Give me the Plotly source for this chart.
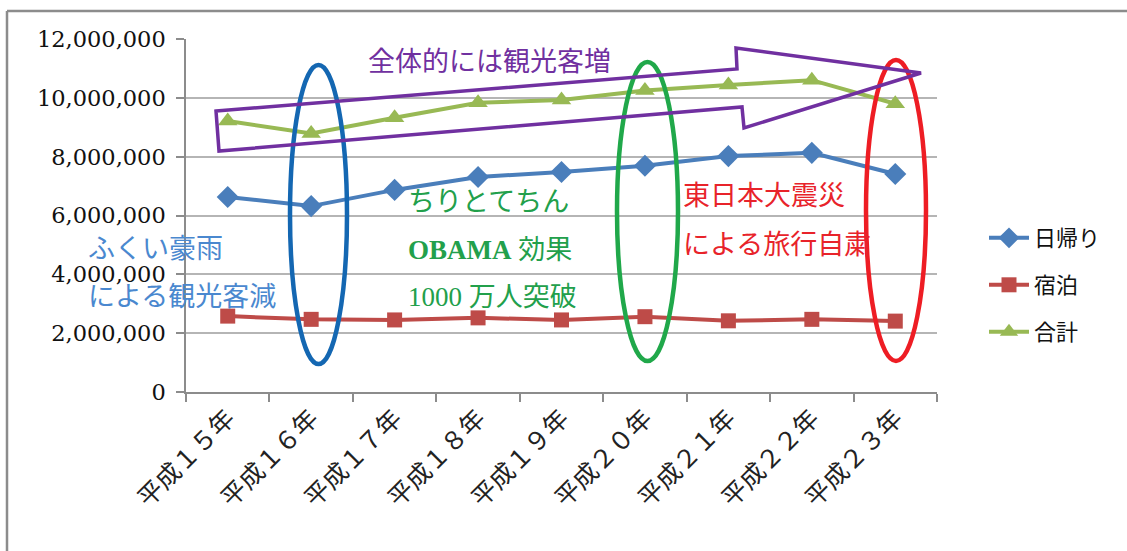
import plotly.graph_objects as go

categories = ['平成１５年', '平成１６年', '平成１７年', '平成１８年', '平成１９年',
              '平成２０年', '平成２１年', '平成２２年', '平成２３年']
higaeri = [6630000, 6320000, 6870000, 7310000, 7480000, 7690000, 8020000, 8130000, 7410000]
shukuhaku = [2580000, 2470000, 2450000, 2520000, 2450000, 2560000, 2420000, 2470000, 2410000]
goukei = [9210000, 8790000, 9320000, 9830000, 9930000, 10250000, 10440000, 10600000, 9800000]
y_ticks = [0, 2000000, 4000000, 6000000, 8000000, 10000000, 12000000]

W, H = 1127, 551
L, R, T, B = 186, 937, 39, 392


def px(x):
    return (x - L) / (R - L)


def py(y):
    return (B - y) / (B - T)


JP = "Noto Sans CJK JP"
SERIF = "DejaVu Serif"
SERIF2 = "Liberation Serif"

fig = go.Figure()
fig.add_trace(go.Scatter(x=categories, y=higaeri, mode='lines+markers', name='日帰り',
                         line=dict(color='#4A7EBB', width=4),
                         marker=dict(symbol='diamond', size=17, color='#4A7EBB'),
                         legend='legend', showlegend=True))
fig.add_trace(go.Scatter(x=categories, y=shukuhaku, mode='lines+markers', name='宿泊',
                         line=dict(color='#BE4B48', width=4),
                         marker=dict(symbol='square', size=15, color='#BE4B48'),
                         legend='legend2', showlegend=True))
fig.add_trace(go.Scatter(x=categories, y=goukei, mode='lines+markers', name='合計',
                         line=dict(color='#98B954', width=4),
                         marker=dict(symbol='triangle-up', size=17, color='#98B954'),
                         legend='legend3', showlegend=True))

leg_common = dict(xref='paper', yref='paper', xanchor='left', yanchor='middle',
                  bgcolor='rgba(0,0,0,0)', font=dict(family=JP, size=22, color='#111'),
                  itemwidth=40)
fig.update_layout(
    width=W, height=H,
    showlegend=True,
    margin=dict(l=L, r=W - R, t=T, b=H - B),
    paper_bgcolor='white', plot_bgcolor='white',
    legend=dict(x=px(984), y=py(238), **leg_common),
    legend2=dict(x=px(984), y=py(285), **leg_common),
    legend3=dict(x=px(984), y=py(332), **leg_common),
    xaxis=dict(type='category', showgrid=False, showline=True, linecolor='#8C8C8C', linewidth=1.5,
               ticks='outside', ticklen=8, tickcolor='#8C8C8C', tickwidth=1.5, tickson='boundaries',
               tickangle=-45, tickfont=dict(family=JP, size=25, color='#222'),
               range=[-0.5, 8.5]),
    yaxis=dict(range=[0, 12000000], tickvals=y_ticks, tickformat=',d',
               showgrid=True, gridcolor='#B5B5B5', gridwidth=1.5,
               showline=True, linecolor='#8C8C8C', linewidth=1.5,
               ticks='outside', ticklen=8, tickcolor='#8C8C8C', tickwidth=1.5,
               ticklabelstandoff=6,
               tickfont=dict(family=SERIF, size=22.5, color='#111'), zeroline=False),
)

shapes = []
# outer chart border (top and left edges visible)
shapes.append(dict(type='line', xref='paper', yref='paper', x0=px(7), x1=px(W + 5), y0=py(11), y1=py(11),
                   line=dict(color='#8C8C8C', width=2.5)))
shapes.append(dict(type='line', xref='paper', yref='paper', x0=px(7), x1=px(7), y0=py(11), y1=py(H + 5),
                   line=dict(color='#8C8C8C', width=2.5)))
# ellipses
for (x0, x1, y0, y1, c) in [(290, 347, 65, 364, '#1467B2'),
                            (617, 678, 62, 361, '#20A84A'),
                            (866, 926, 60, 361, '#EE1D24')]:
    shapes.append(dict(type='circle', xref='paper', yref='paper',
                       x0=px(x0), x1=px(x1), y0=py(y1), y1=py(y0),
                       line=dict(color=c, width=4.5), fillcolor='rgba(0,0,0,0)'))
# big outlined arrow
pts = [(216, 111), (737, 69), (736, 48), (921, 73), (744, 128), (742, 107), (219, 151)]
path = 'M ' + ' L '.join(f'{px(x):.5f},{py(y):.5f}' for x, y in pts) + ' Z'
shapes.append(dict(type='path', xref='paper', yref='paper', path=path,
                   line=dict(color='#7030A0', width=3.5), fillcolor='rgba(0,0,0,0)'))
fig.update_layout(shapes=shapes)

anns = [
    ('全体的には観光客増', 366, 62, '#7030A0'),
    ('ちりとてちん', 406, 202, '#22A04B'),
    ('<b>OBAMA</b> 効果', 406, 250, '#22A04B'),
    ('1000 万人突破', 406, 297, '#22A04B'),
    ('東日本大震災', 681, 196, '#E8232A'),
    ('による旅行自粛', 681, 245, '#E8232A'),
    ('ふくい豪雨', 86, 249, '#4A88CF'),
    ('による観光客減', 86, 297, '#4A88CF'),
]
for text, x, y, c in anns:
    fig.add_annotation(text=text, xref='paper', yref='paper', x=px(x), y=py(y),
                       xanchor='left', yanchor='middle', showarrow=False,
                       font=dict(family=f'{SERIF2}, {JP}', size=27, color=c))

fig.write_html('out.html')
